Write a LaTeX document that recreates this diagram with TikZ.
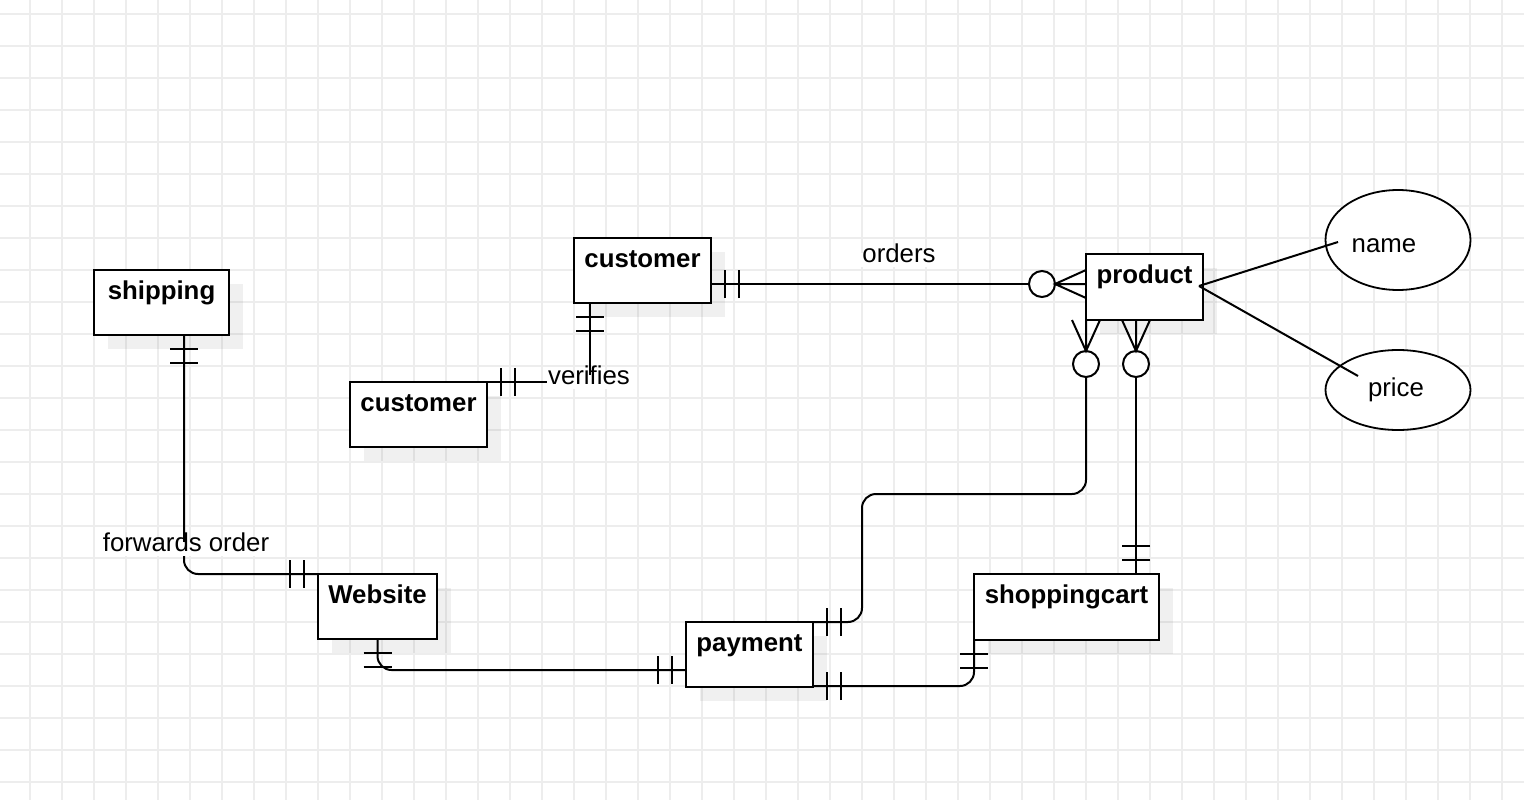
\documentclass[tikz,border=0pt]{standalone}
\usepackage{fontspec}
\setmainfont{Liberation Sans}
\usetikzlibrary{shapes.geometric,shadows,calc}
\definecolor{gridc}{HTML}{EDEDED}
\begin{document}
\begin{tikzpicture}[x=1pt,y=-1pt,
  conn/.style={line width=2pt},
  entity/.style={draw, line width=2pt, fill=white, inner sep=0pt, outer sep=0pt, anchor=north west,
    drop shadow={shadow xshift=14pt, shadow yshift=-14pt, opacity=0.06, fill=black}},
  ttl/.style={font=\fontsize{25.8pt}{30pt}\selectfont\bfseries, anchor=base, inner sep=0pt},
  txt/.style={font=\fontsize{25.8pt}{30pt}\selectfont, anchor=base, inner sep=0pt},
  lbl/.style={txt, fill=white, inner xsep=1pt, inner ysep=2pt, text height=0.75em, text depth=0.25em},
  attr/.style={ellipse, draw, line width=1.8pt, fill=white, inner sep=0pt},
  zc/.style={circle, draw, line width=2pt, minimum size=26pt, inner sep=0pt, outer sep=0pt, fill=white},
  pics/onebar/.style={code={\draw[conn] (14pt,-14pt) -- (14pt,14pt) (28pt,-14pt) -- (28pt,14pt);}},
]
\useasboundingbox (0,0) rectangle (1524,800);
\fill[white] (0,0) rectangle (1524,800);
% grid
\foreach \x in {30,62,...,1502} \draw[gridc, line width=1.5pt] (\x,0) -- (\x,800);
\foreach \y in {14,46,...,782} \draw[gridc, line width=1.5pt] (0,\y) -- (1524,\y);

% entities
\node[entity, minimum width=135pt, minimum height=65pt] (shipping) at (94,270) {};
\node[entity, minimum width=137pt, minimum height=65pt] (custA) at (574,238) {};
\node[entity, minimum width=137pt, minimum height=65pt] (custB) at (350,382) {};
\node[entity, minimum width=117pt, minimum height=66pt] (prod) at (1086,254) {};
\node[entity, minimum width=119pt, minimum height=65pt] (web) at (318,574) {};
\node[entity, minimum width=127pt, minimum height=65pt] (pay) at (686,622) {};
\node[entity, minimum width=185pt, minimum height=66pt] (cart) at (974,574) {};

\node[ttl] (shippingT) at ([yshift=-29.5pt]shipping.north) {shipping};
\node[ttl] (custAT) at ([yshift=-29.5pt]custA.north) {customer};
\node[ttl] (custBT) at ([yshift=-29.5pt]custB.north) {customer};
\node[ttl] (prodT) at ([yshift=-29.5pt]prod.north) {product};
\node[ttl] (webT) at ([yshift=-29.5pt]web.north) {Website};
\node[ttl] (payT) at ([yshift=-29.5pt]pay.north) {payment};
\node[ttl] (cartT) at ([yshift=-29.5pt]cart.north) {shoppingcart};

% attributes
\node[attr, minimum width=145pt, minimum height=100pt] (nameE) at (1398,240) {};
\node[attr, minimum width=145pt, minimum height=80pt] (priceE) at (1398,390) {};
\node[txt] (nameT) at (1384,252) {name};
\node[txt] (priceT) at (1396,396) {price};

% zero-or-many circles
\node[zc] (pc1) at (1042,284) {};
\node[zc] (pc2) at (1086,364) {};
\node[zc] (pc3) at (1136,364) {};

% customer -- product (orders)
\draw[conn] (custA.east |- pc1) -- (pc1);
\pic at (custA.east |- pc1) {onebar};
\coordinate (pl) at (prod.west |- pc1);
\draw[conn] ([yshift=14pt]pl) -- (pc1.east) -- ([yshift=-14pt]pl) (pc1.east) -- (pl);

% customer -- customer (verifies)
\coordinate (vA) at ([xshift=16pt]custA.south west);
\coordinate (vC) at (vA |- custB.north east);
\draw[conn] (custB.north east) -| (vA);
\pic at (custB.north east) {onebar};
\pic[rotate=-90] at (vA) {onebar};

% shipping -- Website (forwards order)
\coordinate (sA) at ([xshift=90pt]shipping.south west);
\draw[conn, rounded corners=14pt] (sA) |- (web.north west);
\pic[rotate=-90] at (sA) {onebar};
\pic[rotate=180] at (web.north west) {onebar};

% Website -- payment
\coordinate (pW) at ([yshift=-15.5pt]pay.west);
\draw[conn, rounded corners=14pt] (web.south) |- (pW);
\pic[rotate=-90] at (web.south) {onebar};
\pic[rotate=180] at (pW) {onebar};

% payment -- product
\draw[conn, rounded corners=14pt] (pay.north east) -| (862,494) -| (pc2);
\pic at (pay.north east) {onebar};
\coordinate (pb1) at (prod.south west);
\draw[conn] ([xshift=-14pt]pb1) -- (pc2.north) -- ([xshift=14pt]pb1) (pc2.north) -- (pb1);

% payment -- shoppingcart
\coordinate (pSE) at ([yshift=1pt]pay.south east);
\draw[conn, rounded corners=14pt] (pSE) -| (cart.south west);
\pic at (pSE) {onebar};
\pic[rotate=-90] at (cart.south west) {onebar};

% shoppingcart -- product
\coordinate (cT) at (cart.north -| pc3);
\draw[conn] (cT) -- (pc3);
\pic[rotate=90] at (cT) {onebar};
\coordinate (pb2) at (prod.south -| pc3);
\draw[conn] ([xshift=-14pt]pb2) -- (pc3.north) -- ([xshift=14pt]pb2) (pc3.north) -- (pb2);

% product -- attributes
\coordinate (pr) at ([shift={(-4pt,1pt)}]prod.east);
\draw[conn] (pr) -- ([shift={(-60pt,-2pt)}]nameE.center);
\draw[conn] (pr) -- ([shift={(-40pt,14pt)}]priceE.center);

% labels
\node[lbl] (ordL) at (899,262) {orders};
\node[lbl] (verL) at ([shift={(-1pt,-2pt)}]vC) {verifies};
\node[lbl] (fwdL) at ([shift={(2pt,-216pt)}]sA) {forwards order};
\end{tikzpicture}
\end{document}
